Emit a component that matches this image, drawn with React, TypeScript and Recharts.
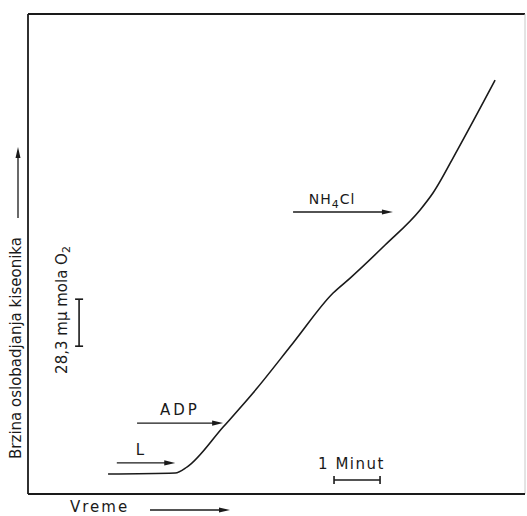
import React from 'react';
import { LineChart, Line, XAxis, YAxis, ReferenceLine, ReferenceDot } from 'recharts';

// vrijeme u minutama, kisik u nmol O2 (očitano sa slike)
const timeMin = [1.74, 3.2, 3.46, 4.24, 4.89, 5.76, 6.63, 7.0, 7.76, 8.52, 8.8, 9.33, 10.15];
const oxygen = [120, 126, 163, 403, 608, 909, 1210, 1300, 1499, 1710, 1812, 2071, 2492];

// dodaci: oznaka, početak i kraj strelice, visina, sredina teksta
const additions = ['L', 'ADP', 'NH4Cl'];
const arrowStart = [1.93, 2.37, 5.76];
const arrowEnd = [3.2, 4.24, 7.93];
const arrowLevel = [187, 427, 1698];
const labelCenter = [2.43, 3.3, 6.61];

// skale
const minuteBar = [6.65, 7.65];
const minuteLevel = 84;
const o2Bar = [890, 1173];
const o2BarX = 1.11;

const xMax = 10.8;
const yMax = 2890;

const ink = '#1a1a1a';
const font = '"DejaVu Sans", sans-serif';

const data = timeMin.map((t, i) => ({ t, o2: oxygen[i] }));

const ArrowHead = (props: any) => (
    <path d={`M${props.cx},${props.cy} L${props.cx - 11},${props.cy - 2.6} L${props.cx - 11},${props.cy + 2.6} Z`} fill={ink} />
);

const VTick = (props: any) => (
    <line x1={props.cx} x2={props.cx} y1={props.cy - 4} y2={props.cy + 4} stroke={ink} strokeWidth={1.6} />
);

const HTick = (props: any) => (
    <line x1={props.cx - 4} x2={props.cx + 4} y1={props.cy} y2={props.cy} stroke={ink} strokeWidth={1.6} />
);

const labelShape = (name: string) => (props: any) => {
    const { cx, cy } = props;
    if (name === 'NH4Cl') {
        return (
            <text x={cx} y={cy - 8} textAnchor="middle" fontFamily={font} fontSize={14} fill={ink} letterSpacing={1}>
                NH<tspan fontSize={11} dy={4}>4</tspan><tspan dy={-4}>Cl</tspan>
            </text>
        );
    }
    return (
        <text x={cx} y={cy - 8} textAnchor="middle" fontFamily={font} fontSize={15} fill={ink} letterSpacing={name === 'ADP' ? 3 : 0}>
            {name}
        </text>
    );
};

const MinuteLabel = (props: any) => (
    <text x={props.cx} y={props.cy - 11} textAnchor="middle" fontFamily={font} fontSize={15} fill={ink} letterSpacing={1.5}>
        1 Minut
    </text>
);

const O2Label = (props: any) => (
    <text
        x={props.cx}
        y={props.cy}
        transform={`rotate(-90, ${props.cx}, ${props.cy})`}
        textAnchor="middle"
        dominantBaseline="central"
        fontFamily={font}
        fontSize={15}
        fill={ink}
    >
        28,3 mμ mola O<tspan fontSize={11} dy={4}>2</tspan>
    </text>
);

const YLabel = (props: any) => {
    const { x } = props.viewBox;
    const lx = x - 12;
    return (
        <g>
            <text
                x={lx}
                y={348}
                transform={`rotate(-90, ${lx}, 348)`}
                textAnchor="middle"
                dominantBaseline="central"
                fontFamily={font}
                fontSize={15}
                fill={ink}
            >
                Brzina oslobadjanja kiseonika
            </text>
            <line x1={lx + 2} x2={lx + 2} y1={218} y2={156} stroke={ink} strokeWidth={1.3} />
            <path d={`M${lx + 2},147 L${lx - 0.5},158 L${lx + 4.5},158 Z`} fill={ink} />
        </g>
    );
};

const XLabel = (props: any) => {
    const { x, y } = props.viewBox;
    return (
        <g>
            <text x={x + 42} y={y + 18} fontFamily={font} fontSize={15} fill={ink} letterSpacing={2}>
                Vreme
            </text>
            <line x1={x + 122} x2={x + 192} y1={y + 16} y2={y + 16} stroke={ink} strokeWidth={1.3} />
            <path d={`M${x + 202},${y + 16} L${x + 191},${y + 13.5} L${x + 191},${y + 18.5} Z`} fill={ink} />
        </g>
    );
};

export default function App() {
    return (
        <div style={{ position: 'absolute', left: 0, top: 0, width: 527, height: 516, background: '#fff' }}>
            <LineChart width={527} height={516} data={data} margin={{ top: 14, right: 2, bottom: 22, left: 28 }}>
                <XAxis type="number" dataKey="t" domain={[0, xMax]} allowDataOverflow hide />
                <YAxis type="number" domain={[0, yMax]} allowDataOverflow hide />

                {/* okvir */}
                <ReferenceLine y={yMax} stroke={ink} strokeWidth={1.8} />
                <ReferenceLine x={xMax} stroke="#c8c8c8" strokeWidth={1} />
                <ReferenceLine x={0} stroke={ink} strokeWidth={1.8} label={<YLabel />} />
                <ReferenceLine y={0} stroke={ink} strokeWidth={1.8} label={<XLabel />} />

                {/* strelice za dodatke */}
                {additions.map((name, i) => (
                    <ReferenceLine
                        key={`seg-${name}`}
                        segment={[{ x: arrowStart[i], y: arrowLevel[i] }, { x: arrowEnd[i] - 0.2, y: arrowLevel[i] }]}
                        stroke={ink}
                        strokeWidth={1.3}
                    />
                ))}
                {additions.map((name, i) => (
                    <ReferenceDot key={`head-${name}`} x={arrowEnd[i]} y={arrowLevel[i]} r={0} shape={<ArrowHead />} />
                ))}
                {additions.map((name, i) => (
                    <ReferenceDot key={`lab-${name}`} x={labelCenter[i]} y={arrowLevel[i]} r={0} shape={labelShape(name)} />
                ))}

                {/* skala vremena */}
                <ReferenceLine
                    segment={[{ x: minuteBar[0], y: minuteLevel }, { x: minuteBar[1], y: minuteLevel }]}
                    stroke={ink}
                    strokeWidth={1.6}
                />
                <ReferenceDot x={minuteBar[0]} y={minuteLevel} r={0} shape={<VTick />} />
                <ReferenceDot x={minuteBar[1]} y={minuteLevel} r={0} shape={<VTick />} />
                <ReferenceDot x={(minuteBar[0] + minuteBar[1]) / 2 - 0.12} y={minuteLevel} r={0} shape={<MinuteLabel />} />

                {/* skala kisika */}
                <ReferenceLine
                    segment={[{ x: o2BarX, y: o2Bar[0] }, { x: o2BarX, y: o2Bar[1] }]}
                    stroke={ink}
                    strokeWidth={1.6}
                />
                <ReferenceDot x={o2BarX} y={o2Bar[0]} r={0} shape={<HTick />} />
                <ReferenceDot x={o2BarX} y={o2Bar[1]} r={0} shape={<HTick />} />
                <ReferenceDot x={0.74} y={1108} r={0} shape={<O2Label />} />

                <Line
                    type="monotone"
                    dataKey="o2"
                    stroke={ink}
                    strokeWidth={1.6}
                    dot={false}
                    isAnimationActive={false}
                />
            </LineChart>
        </div>
    );
}
